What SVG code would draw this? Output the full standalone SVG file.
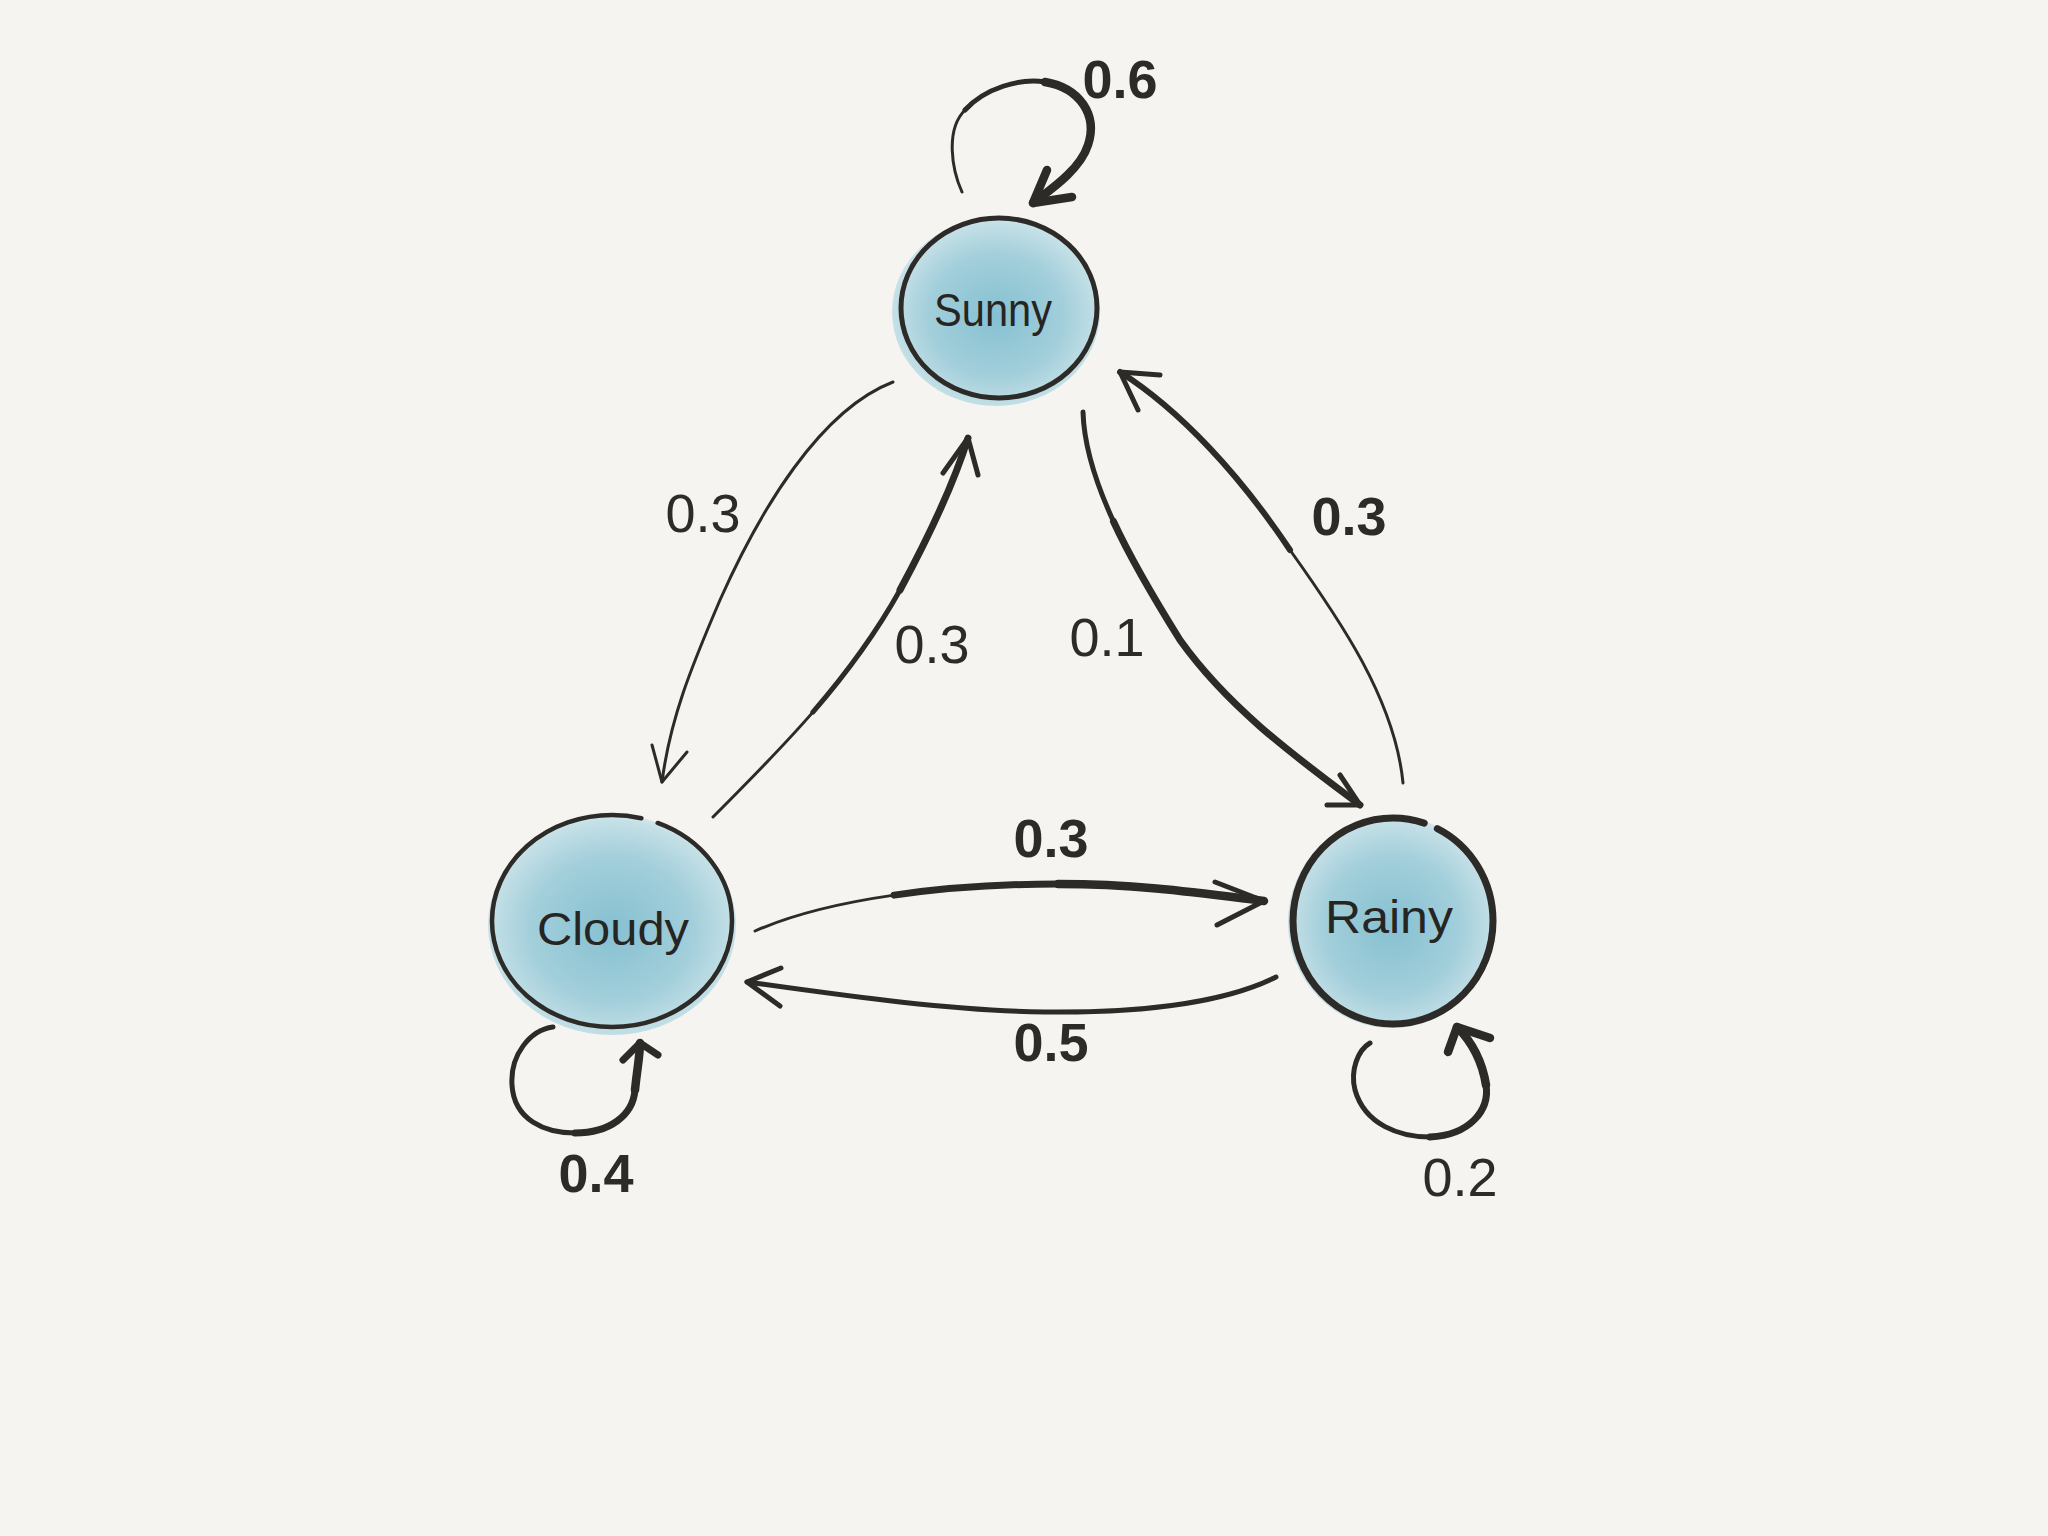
<svg xmlns="http://www.w3.org/2000/svg" width="2048" height="1536" viewBox="0 0 2048 1536">
<defs>
<radialGradient id="wash" cx="50%" cy="52%" r="55%">
<stop offset="0" stop-color="#86c0d1"/>
<stop offset="0.6" stop-color="#a3cfdb"/>
<stop offset="0.9" stop-color="#c5e0e7"/>
<stop offset="1" stop-color="#d5e8ec" stop-opacity="0.6"/>
</radialGradient>
</defs>
<style>
.ink{fill:none;stroke:#2d2b28;stroke-linecap:round;stroke-linejoin:round}
.thin{stroke-width:3}
.mid{stroke-width:5}
.thick{stroke-width:7}
.heavy{stroke-width:8.5}
.node-label{font-family:"Liberation Sans","DejaVu Sans",sans-serif;font-size:46px;fill:#262523;text-anchor:middle}
.edge-label{font-family:"Liberation Sans","DejaVu Sans",sans-serif;font-size:54px;fill:#2d2b28;text-anchor:middle}
.bold{font-weight:bold}
</style>
<rect width="2048" height="1536" fill="#f5f4f0"/>

<g id="connectors">
  <g id="sunny-to-cloudy">
    <path class="ink thin" d="M893,382 C820,410 760,510 720,600 C690,670 670,720 662,782"/>
    <path class="ink thin" d="M652,745 L662,782 L687,752"/>
  </g>
  <g id="cloudy-to-sunny">
    <path class="ink thin" d="M713,817 C780,750 850,680 900,590 C935,525 955,480 968,438"/>
    <path class="ink mid" d="M812.9,712.1 C845,675 875,635 900,590 C935,525 955,480 968,438"/>
    <path class="ink thick" d="M900,590 C935,525 955,480 968,438"/>
    <path class="ink mid" d="M943,473 L968,438 L978,475"/>
  </g>
  <g id="sunny-to-rainy">
    <path class="ink mid" d="M1083,412 C1085,480 1130,560 1180,640 C1230,710 1300,760 1360,805"/>
    <path class="ink thick" d="M1113.5,521.5 C1131.25,560 1155,600 1180,640 C1230,710 1300,760 1360,805"/>
    <path class="ink mid" d="M1340,775 L1360,805 L1327,805"/>
  </g>
  <g id="rainy-to-sunny">
    <path class="ink thin" d="M1403,783 C1395,700 1340,620 1290,550 C1240,475 1180,410 1120,372"/>
    <path class="ink" stroke-width="6" d="M1290,550 C1240,475 1180,410 1120,372"/>
    <path class="ink mid" d="M1160,375 L1120,372 L1138,410"/>
  </g>
  <g id="cloudy-to-rainy">
    <path class="ink thin" d="M755,931 C830,898 950,884 1058,884 C1140,884 1200,893 1264,901"/>
    <path class="ink thick" d="M894.1,895.1 C947,887.5 1004,884 1058,884 C1140,884 1200,893 1264,901"/>
    <path class="ink heavy" d="M1058,884 C1140,884 1200,893 1264,901"/>
    <path class="ink mid" d="M1215,882 L1264,901 L1217,925"/>
  </g>
  <g id="rainy-to-cloudy">
    <path class="ink mid" d="M1276,977 C1220,1005 1130,1013 1045,1012 C950,1011 840,995 747,982"/>
    <path class="ink mid" d="M781,968 L747,982 L780,1006"/>
  </g>
  <g id="sunny-loop">
    <path class="ink thin" d="M962,192 C952,170 945,130 965,110 C985,88 1020,78 1045,82 C1080,88 1098,115 1088,145 C1080,170 1050,190 1033,203"/>
    <path class="ink mid" d="M965,110 C985,88 1020,78 1045,82"/>
    <path class="ink heavy" d="M1045,82 C1080,88 1098,115 1088,145 C1080,170 1050,190 1033,203"/>
    <path class="ink heavy" d="M1047,170 L1033,203 L1072,197"/>
  </g>
  <g id="cloudy-loop">
    <path class="ink mid" d="M553,1027 C530,1030 510,1055 512,1085 C514,1120 545,1133 575,1133 C610,1133 633,1115 635,1090 C637,1070 640,1055 640,1043"/>
    <path class="ink thick" d="M575,1133 C610,1133 633,1115 635,1090 C637,1070 640,1055 640,1043"/>
    <path class="ink heavy" d="M635,1090 C637,1070 640,1055 640,1043"/>
    <path class="ink thick" d="M623,1060 L640,1043 L658,1055"/>
  </g>
  <g id="rainy-loop">
    <path class="ink mid" d="M1370,1043 C1358,1050 1350,1070 1355,1090 C1365,1125 1400,1137 1430,1137 C1470,1135 1490,1110 1486,1085 C1482,1060 1470,1040 1457,1027"/>
    <path class="ink thick" d="M1430,1137 C1470,1135 1490,1110 1486,1085 C1482,1060 1470,1040 1457,1027"/>
    <path class="ink heavy" d="M1486,1085 C1482,1060 1470,1040 1457,1027"/>
    <path class="ink heavy" d="M1448,1052 L1457,1027 L1490,1038"/>
  </g>
</g>

<g id="node-sunny">
  <ellipse cx="996" cy="312" rx="104" ry="94" fill="url(#wash)"/>
  <ellipse class="ink" cx="999" cy="308" rx="98" ry="90" stroke-width="5"/>
  <text class="node-label" x="993" y="326" textLength="118" lengthAdjust="spacingAndGlyphs">Sunny</text>
</g>
<g id="node-cloudy">
  <ellipse cx="612" cy="925" rx="124" ry="110" fill="url(#wash)"/>
  <ellipse class="ink" cx="612" cy="921" rx="120" ry="106" stroke-width="4.5" pathLength="360" stroke-dasharray="285 8.6 66.4"/>
  <text class="node-label" x="613" y="945" textLength="152" lengthAdjust="spacingAndGlyphs">Cloudy</text>
</g>
<g id="node-rainy">
  <ellipse cx="1392" cy="922" rx="104" ry="106" fill="url(#wash)"/>
  <ellipse class="ink" cx="1393" cy="921" rx="100" ry="103" stroke-width="7" pathLength="360" stroke-dasharray="288 8 64"/>
  <text class="node-label" x="1389" y="933" textLength="128" lengthAdjust="spacingAndGlyphs">Rainy</text>
</g>

<g id="edge-labels">
  <text class="edge-label bold" x="1120" y="98">0.6</text>
  <text class="edge-label" x="703" y="532">0.3</text>
  <text class="edge-label" x="932" y="663">0.3</text>
  <text class="edge-label" x="1107" y="656">0.1</text>
  <text class="edge-label bold" x="1349" y="535">0.3</text>
  <text class="edge-label bold" x="1051" y="857">0.3</text>
  <text class="edge-label bold" x="1051" y="1061">0.5</text>
  <text class="edge-label bold" x="596" y="1192">0.4</text>
  <text class="edge-label" x="1460" y="1196">0.2</text>
</g>
</svg>
